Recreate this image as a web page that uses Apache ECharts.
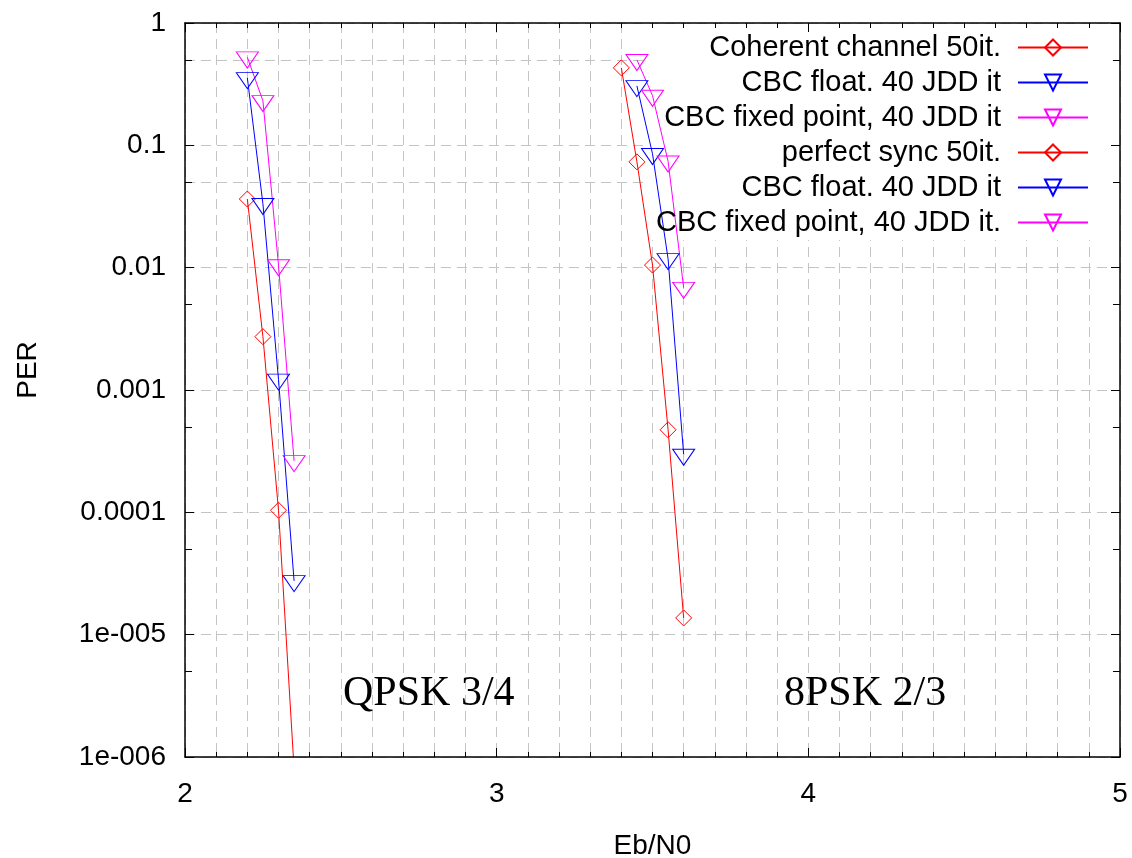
<!DOCTYPE html>
<html>
<head>
<meta charset="utf-8">
<script src="https://cdn.jsdelivr.net/npm/echarts@6/dist/echarts.min.js"></script>
<style>html,body{margin:0;padding:0;background:#fff}#chart{width:1132px;height:858px}</style>
</head>
<body>
<div id="chart"></div>
<script>
// ---- data ----
const qpskX = [2.2, 2.25, 2.3, 2.35];
const qpskCoherent = [0.0364, 0.00273, 1.04e-4, 8e-7];
const qpskFloat = [0.356, 0.0333, 0.00122, 2.75e-5];
const qpskFixed = [0.525, 0.231, 0.0105, 2.63e-4];

const psk8PerfectX = [3.4, 3.45, 3.5, 3.55, 3.6];
const psk8Perfect = [0.43, 0.0733, 0.0105, 4.73e-4, 1.37e-5];
const psk8X = [3.45, 3.5, 3.55, 3.6];
const psk8Float = [0.306, 0.0853, 0.0118, 2.97e-4];
const psk8Fixed = [0.50, 0.255, 0.074, 0.00687];

const seriesNames = [
  'Coherent channel 50it.',
  'CBC float. 40 JDD it',
  'CBC fixed point, 40 JDD it',
  'perfect sync 50it.',
  'CBC float. 40 JDD it#2',
  'CBC fixed point, 40 JDD it.'
];
const yTickLabels = ['1', '0.1', '0.01', '0.001', '0.0001', '1e-005', '1e-006'];
const minorGridValues = [0.5, 0.05, 0.005, 0.0005, 0.00005, 0.000005];
const textLabels = ['QPSK 3/4', '8PSK 2/3'];

// ---- helpers ----
const FONT = 'Liberation Sans';
const RED = '#ff0000', BLUE = '#0000ff', MAG = '#ff00ff';
const GRID_COLOR = '#c4c4c4';
const TRI = 'path://M0,0 L22,0 L11,16 Z';

function pairs(xs, ys) { return xs.map((x, i) => [x, ys[i]]); }

function mkSeries(name, xs, ys, color, symbol, size, offset) {
  return {
    name: name,
    type: 'line',
    xAxisIndex: 0, yAxisIndex: 0,
    data: pairs(xs, ys),
    symbol: symbol,
    symbolSize: size,
    symbolOffset: offset,
    showSymbol: true,
    clip: true,
    z: 2,
    lineStyle: { color: color, width: 1 },
    itemStyle: { color: 'rgba(0,0,0,0)', borderColor: color, borderWidth: 1 },
    emphasis: { disabled: true },
    animation: false
  };
}

const chart = echarts.init(document.getElementById('chart'), null, { renderer: 'canvas' });

const gridDash = { color: GRID_COLOR, width: 1, type: [10, 6] };
const frameLine = { show: true, lineStyle: { color: '#000', width: 1.5 } };

const series = [
  mkSeries(seriesNames[0], qpskX, qpskCoherent, RED, 'diamond', [16, 16], [0, 0]),
  mkSeries(seriesNames[1], qpskX, qpskFloat, BLUE, TRI, [22, 16], [0, 2.7]),
  mkSeries(seriesNames[2], qpskX, qpskFixed, MAG, TRI, [22, 16], [0, 2.7]),
  mkSeries(seriesNames[3], psk8PerfectX, psk8Perfect, RED, 'diamond', [16, 16], [0, 0]),
  mkSeries(seriesNames[4], psk8X, psk8Float, BLUE, TRI, [22, 16], [0, 2.7]),
  mkSeries(seriesNames[5], psk8X, psk8Fixed, MAG, TRI, [22, 16], [0, 2.7])
];

// minor (5*10^k) horizontal grid lines, below the key background
series[0].markLine = {
  silent: true, z: 0, symbol: ['none', 'none'], animation: false,
  label: { show: false },
  lineStyle: gridDash,
  emphasis: { disabled: true },
  data: minorGridValues.map(v => ({ yAxis: v }))
};
// minor ticks at 5*10^k on the left and right frame
const tickDx = 7 / 311;
const minorTickSegs = [];
minorGridValues.forEach(v => {
  minorTickSegs.push([{ coord: [2, v] }, { coord: [2 + tickDx, v] }]);
  minorTickSegs.push([{ coord: [5 - tickDx, v] }, { coord: [5, v] }]);
});
series[3].markLine = {
  silent: true, z: 3, symbol: ['none', 'none'], animation: false,
  label: { show: false },
  lineStyle: { color: '#000', width: 1, type: 'solid' },
  emphasis: { disabled: true },
  data: minorTickSegs
};

const option = {
  animation: false,
  backgroundColor: '#ffffff',
  textStyle: { fontFamily: FONT },
  grid: { left: 185, right: 12, top: 23, bottom: 101, containLabel: false, outerBoundsMode: 'none' },
  xAxis: [
    { // grid lines
      type: 'value', min: 2, max: 5, interval: 1, position: 'bottom', z: 0,
      axisLine: { show: false }, axisTick: { show: false }, axisLabel: { show: false },
      splitLine: { show: true, lineStyle: gridDash },
      minorTick: { show: false, splitNumber: 10 },
      minorSplitLine: { show: true, lineStyle: gridDash }
    },
    { // bottom frame
      type: 'value', min: 2, max: 5, interval: 1, position: 'bottom', z: 3,
      axisLine: frameLine,
      axisTick: { show: true, inside: true, length: 9, lineStyle: { color: '#000', width: 1 } },
      minorTick: { show: true, splitNumber: 10, length: 5, lineStyle: { color: '#000', width: 1 } },
      splitLine: { show: false },
      axisLabel: { show: true, margin: 23, fontSize: 28, color: '#000', fontFamily: FONT },
      name: 'Eb/N0', nameLocation: 'middle', nameGap: 75,
      nameTextStyle: { fontSize: 28, color: '#000', fontFamily: FONT }
    },
    { // top frame
      type: 'value', min: 2, max: 5, interval: 1, position: 'top', z: 3,
      axisLine: frameLine,
      axisTick: { show: true, inside: true, length: 9, lineStyle: { color: '#000', width: 1 } },
      minorTick: { show: true, splitNumber: 10, length: 5, lineStyle: { color: '#000', width: 1 } },
      splitLine: { show: false }, axisLabel: { show: false }
    }
  ],
  yAxis: [
    { // grid lines
      type: 'log', logBase: 10, min: 1e-6, max: 1, splitNumber: 6, position: 'left', z: 0,
      axisLine: { show: false }, axisTick: { show: false }, axisLabel: { show: false },
      splitLine: { show: true, lineStyle: gridDash }
    },
    { // left frame
      type: 'log', logBase: 10, min: 1e-6, max: 1, splitNumber: 6, position: 'left', z: 3,
      axisLine: frameLine,
      axisTick: { show: true, inside: true, length: 9, lineStyle: { color: '#000', width: 1 } },
      splitLine: { show: false },
      axisLabel: {
        show: true, margin: 19, fontSize: 28, color: '#000', fontFamily: FONT,
        formatter: function (v) {
          const e = Math.round(-Math.log10(v));
          return yTickLabels[e] !== undefined ? yTickLabels[e] : '';
        }
      },
      name: 'PER', nameLocation: 'middle', nameGap: 143, nameRotate: 90,
      nameTextStyle: { fontSize: 28, color: '#000', fontFamily: FONT, padding: [0, 0, 0, 40] }
    },
    { // right frame
      type: 'log', logBase: 10, min: 1e-6, max: 1, splitNumber: 6, position: 'right', z: 3,
      axisLine: frameLine,
      axisTick: { show: true, inside: true, length: 9, lineStyle: { color: '#000', width: 1 } },
      splitLine: { show: false }, axisLabel: { show: false }
    }
  ],
  legend: {
    orient: 'vertical', align: 'right', right: 43, top: 33, padding: 0,
    itemWidth: 70, itemHeight: 20, itemGap: 6, z: 4,
    selectedMode: false,
    data: seriesNames,
    formatter: function (name) { return name.replace(/#\d$/, ''); },
    textStyle: { fontSize: 29, lineHeight: 29, color: '#000', fontFamily: FONT, padding: [0, 12, 0, 0] }
  },
  graphic: [
    { type: 'rect', z: 1, silent: true, shape: { x: 645, y: 24, width: 474, height: 216 }, style: { fill: '#ffffff' } },
    { type: 'text', z: 5, silent: true, x: 343, y: 694,
      style: { text: textLabels[0], font: '42px "Liberation Serif"', fill: '#000', textAlign: 'left', textVerticalAlign: 'middle' } },
    { type: 'text', z: 5, silent: true, x: 784, y: 694,
      style: { text: textLabels[1], font: '42px "Liberation Serif"', fill: '#000', textAlign: 'left', textVerticalAlign: 'middle' } }
  ],
  series: series
};
chart.setOption(option);
</script>
</body>
</html>
